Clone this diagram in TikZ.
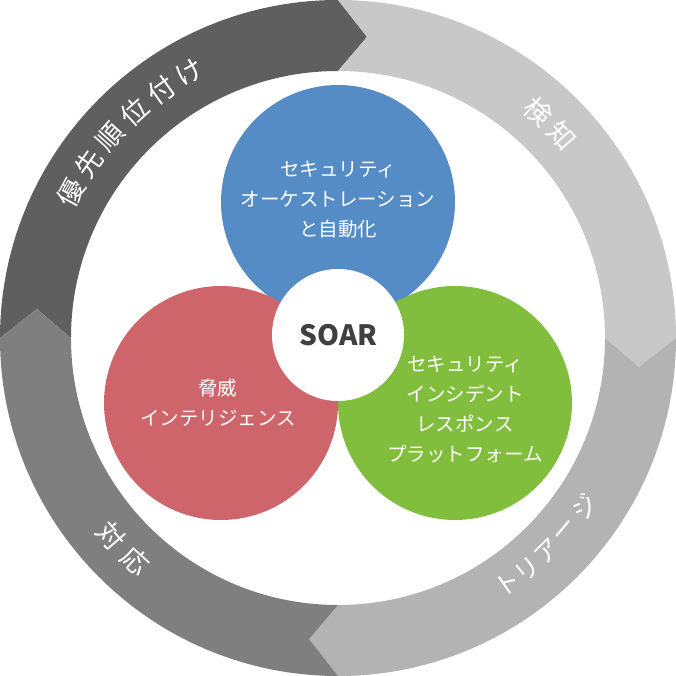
\documentclass[tikz,border=0pt]{standalone}
\usepackage{fontspec}
\newfontfamily\jp{Noto Sans CJK JP}
\definecolor{segA}{HTML}{5F5F5F}
\definecolor{segB}{HTML}{C8C8C8}
\definecolor{segC}{HTML}{B3B3B3}
\definecolor{segD}{HTML}{7F7F7F}
\definecolor{cblue}{HTML}{568CC6}
\definecolor{cred}{HTML}{CD656A}
\definecolor{cgreen}{HTML}{82BE3E}
\definecolor{soartxt}{HTML}{404040}
\tikzset{
  bigcircle/.style={circle, minimum size=234pt, inner sep=0pt},
  circtxt/.style={text=white, align=center, inner sep=0pt, font=\jp\fontsize{19.5}{30}\selectfont},
  ringtxt/.style={text=white, inner sep=0pt, font=\jp\fontsize{27}{27}\selectfont},
  kanatxt/.style={text=white, inner sep=0pt, font=\jp\fontsize{25}{25}\selectfont},
}
\begin{document}
\begin{tikzpicture}[x=1pt,y=1pt]
\useasboundingbox (-338,-338) rectangle (338,338);
% ring segments
\fill[segA] (180:338pt) arc[start angle=180,end angle=90,radius=338pt] -- (84.5:302.5pt) -- (90:267pt) arc[start angle=90,end angle=180,radius=267pt] -- (174.5:302.5pt) -- cycle;
\fill[segB] (90:338pt) arc[start angle=90,end angle=0,radius=338pt] -- (-5.5:302.5pt) -- (0:267pt) arc[start angle=0,end angle=90,radius=267pt] -- (84.5:302.5pt) -- cycle;
\fill[segC] (0:338pt) arc[start angle=0,end angle=-90,radius=338pt] -- (-95.5:302.5pt) -- (-90:267pt) arc[start angle=-90,end angle=0,radius=267pt] -- (-5.5:302.5pt) -- cycle;
\fill[segD] (270:338pt) arc[start angle=270,end angle=180,radius=338pt] -- (174.5:302.5pt) -- (180:267pt) arc[start angle=180,end angle=270,radius=267pt] -- (264.5:302.5pt) -- cycle;
% ring labels
\node[ringtxt, rotate=61.5] (p1) at (151.5:304pt) {優};
\node[ringtxt, rotate=55] (p2) at (145:304pt) {先};
\node[ringtxt, rotate=48.5] (p3) at (138.5:304pt) {順};
\node[ringtxt, rotate=42] (p4) at (132:304pt) {位};
\node[ringtxt, rotate=35.5] (p5) at (125.5:304pt) {付};
\node[ringtxt, rotate=29.3] (p6) at (119.3:304pt) {け};
\node[ringtxt, rotate=-41.5] (k1) at (48.5:302pt) {検};
\node[ringtxt, rotate=-48] (k2) at (42:302pt) {知};
\node[kanatxt, rotate=34.6] (t1) at (-55.4:299pt) {ト};
\node[kanatxt, rotate=39.3] (t2) at (-50.7:299pt) {リ};
\node[kanatxt, rotate=44.5] (t3) at (-45.5:299pt) {ア};
\node[kanatxt, rotate=49.8] (t4) at (-40.2:299pt) {ー};
\node[kanatxt, rotate=55.6] (t5) at (-34.4:299pt) {ジ};
\node[ringtxt, rotate=-49] (r1) at (221:301pt) {対};
\node[ringtxt, rotate=-42.2] (r2) at (227.8:301pt) {応};
% circles
\node[bigcircle, fill=cblue] (blue) at (0,136) {};
\node[bigcircle, fill=cred] (red) at (-117,-65) {};
\node[bigcircle, fill=cgreen] (green) at (117,-65) {};
\node[circle, fill=white, minimum size=132pt, inner sep=0pt] (soar) at (0,3) {};
% texts
\node[circtxt] (bluetxt) at (0,138) {セキュリティ\\オーケストレーション\\と自動化};
\node[circtxt] (redtxt) at (-120,-65) {脅威\\インテリジェンス};
\node[circtxt] (greentxt) at (127,-72) {セキュリティ\\インシデント\\レスポンス\\プラットフォーム};
\node[text=soartxt, inner sep=0pt, font=\jp\bfseries\fontsize{28}{28}\selectfont] (soartext) at (0.5,3) {SOAR};
\end{tikzpicture}
\end{document}
